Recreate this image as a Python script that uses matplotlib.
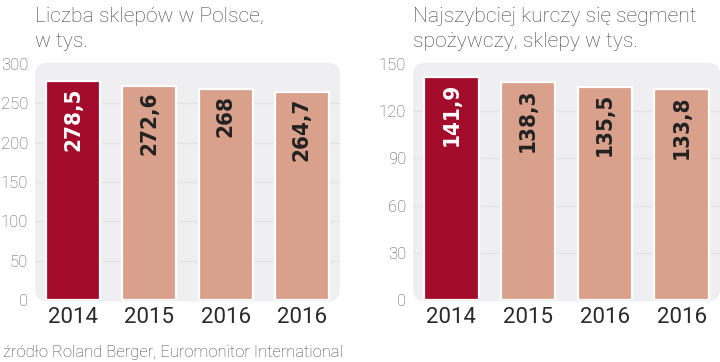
import matplotlib
matplotlib.use("Agg")
import matplotlib.pyplot as plt
from matplotlib.patches import FancyBboxPatch

years = ["2014", "2015", "2016", "2016"]
shops_total = [278.5, 272.6, 268, 264.7]
shops_total_labels = ["278,5", "272,6", "268", "264,7"]
shops_food = [141.9, 138.3, 135.5, 133.8]
shops_food_labels = ["141,9", "138,3", "135,5", "133,8"]
left_ticks = [0, 50, 100, 150, 200, 250, 300]
right_ticks = [0, 30, 60, 90, 120, 150]
title_left = ["Liczba sklepów w Polsce,", "w tys."]
title_right = ["Najszybciej kurczy się segment", "spożywczy, sklepy w tys."]
source = "źródło Roland Berger, Euromonitor International"

W, H = 720, 362
fig = plt.figure(figsize=(W / 100, H / 100), dpi=100)
fig.patch.set_facecolor("white")

DARK = "#a30d2b"
LIGHT = "#d9a08b"
BG = "#efeff1"
FONT = ["Roboto", "DejaVu Sans"]


def panel(x0, x1, vals, labels, ticks, title):
    ax = fig.add_axes([x0 / W, (H - 300) / H, (x1 - x0) / W, 236 / H])
    ax.set_xlim(-0.5, 3.5)
    ax.set_ylim(0, ticks[-1])
    for s in ax.spines.values():
        s.set_visible(False)
    ax.set_facecolor("none")
    bg = FancyBboxPatch((0.0, -0.005), 1.0, 1.01, boxstyle="round,pad=0,rounding_size=0.04",
                        transform=ax.transAxes, facecolor=BG, edgecolor="none",
                        zorder=0, clip_on=False, mutation_aspect=(x1 - x0) / 236)
    ax.add_patch(bg)
    for t in ticks[1:-1]:
        ax.axhline(t, color="#e2e2e4", lw=0.9, zorder=1)
    x = list(range(len(vals)))
    colors = [DARK] + [LIGHT] * (len(vals) - 1)
    ax.bar(x, vals, width=0.73, color="#cdcdcd", zorder=2, linewidth=0)
    bars = ax.bar(x, vals, width=0.71, color=colors, edgecolor="white",
                  linewidth=1.6, zorder=3)
    for b in bars:
        b.set_joinstyle("round")
    for i, (v, lab) in enumerate(zip(vals, labels)):
        ax.annotate(lab, (i, v), xytext=(0, -4.5), textcoords="offset points",
                    rotation=90, ha="center", va="top", fontsize=16,
                    fontweight="bold", fontstretch="condensed",
                    family=["DejaVu Sans"],
                    color="white" if i == 0 else "#222222", zorder=4)
    ax.set_yticks(ticks)
    ax.set_yticklabels([str(t) for t in ticks], fontsize=12, color="#555555",
                       family=FONT, fontweight="light")
    ax.set_xticks(x)
    ax.set_xticklabels(years, fontsize=16, color="#2a2a2a", family=FONT)
    ax.tick_params(axis="y", length=0, pad=5)
    ax.tick_params(axis="x", length=0, pad=5)
    fig.text(x0 / W, 1 - 22 / H, title[0], fontsize=15.2, color="#444444",
             family=FONT, fontweight="light", va="baseline", ha="left")
    fig.text(x0 / W, 1 - 47 / H, title[1], fontsize=15.2, color="#444444",
             family=FONT, fontweight="light", va="baseline", ha="left")
    return ax


panel(35, 340, shops_total, shops_total_labels, left_ticks, title_left)
panel(413, 720, shops_food, shops_food_labels, right_ticks, title_right)

fig.text(3 / W, 1 - 352 / H, source, fontsize=12, color="#444444",
         family=FONT, fontweight="light", va="center", ha="left")

fig.savefig("out.png", dpi=100)
